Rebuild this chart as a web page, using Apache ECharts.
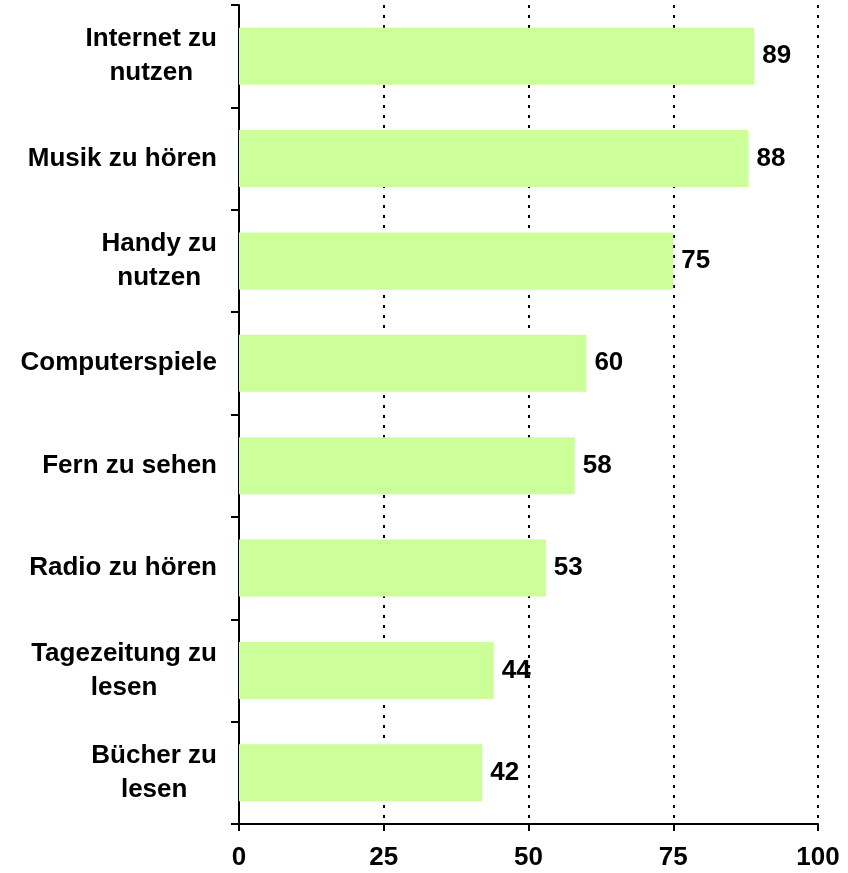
<!DOCTYPE html>
<html>
<head>
<meta charset="utf-8">
<script src="https://cdn.jsdelivr.net/npm/echarts@6/dist/echarts.min.js"></script>
<style>
  html, body { margin: 0; padding: 0; background: #fff; }
  #chart { width: 848px; height: 873px; }
</style>
</head>
<body>
<div id="chart"></div>
<script>
// categories, top to bottom
const categories = [
  'Internet zu\nnutzen',
  'Musik zu hören',
  'Handy zu\nnutzen',
  'Computerspiele',
  'Fern zu sehen',
  'Radio zu hören',
  'Tagezeitung zu\nlesen',
  'Bücher zu\nlesen'
];
const values = [89, 88, 75, 60, 58, 53, 44, 42];
const xTicks = [0, 25, 50, 75, 100];

const FONT = '"Liberation Sans", Arial, sans-serif';

const chart = echarts.init(document.getElementById('chart'));
chart.setOption({
  animation: false,
  grid: {
    left: 239,
    right: 30,
    top: 5,
    bottom: 49,
    containLabel: false
  },
  xAxis: {
    type: 'value',
    min: xTicks[0],
    max: xTicks[xTicks.length - 1],
    interval: 25,
    axisLine: { show: true, lineStyle: { color: '#000', width: 2 } },
    axisTick: { show: true, length: 7, lineStyle: { color: '#000', width: 2 } },
    axisLabel: {
      color: '#000',
      fontFamily: FONT,
      fontWeight: 'bold',
      fontSize: 26,
      margin: 21
    },
    splitLine: {
      show: true,
      lineStyle: { color: '#000', width: 2, type: [3, 7] }
    }
  },
  yAxis: {
    type: 'category',
    inverse: true,
    data: categories,
    axisLine: { show: true, lineStyle: { color: '#000', width: 2 } },
    axisTick: { show: true, length: 8, lineStyle: { color: '#000', width: 2 } },
    axisLabel: {
      color: '#000',
      fontFamily: FONT,
      fontWeight: 'bold',
      fontSize: 26,
      margin: 22,
      formatter: function (v) {
        // center each line inside the right-aligned block
        return v.split('\n').map(l => '{c|' + l + '}').join('\n');
      },
      rich: {
        c: {
          align: 'center',
          color: '#000',
          fontFamily: FONT,
          fontWeight: 'bold',
          fontSize: 26,
          lineHeight: 34
        }
      }
    },
    splitLine: { show: false }
  },
  series: [
    {
      type: 'bar',
      data: values,
      barWidth: 57,
      itemStyle: { color: '#CCFF99' },
      label: {
        show: true,
        position: 'right',
        distance: 8,
        color: '#000',
        fontFamily: FONT,
        fontWeight: 'bold',
        fontSize: 26
      }
    }
  ]
});
</script>
</body>
</html>
